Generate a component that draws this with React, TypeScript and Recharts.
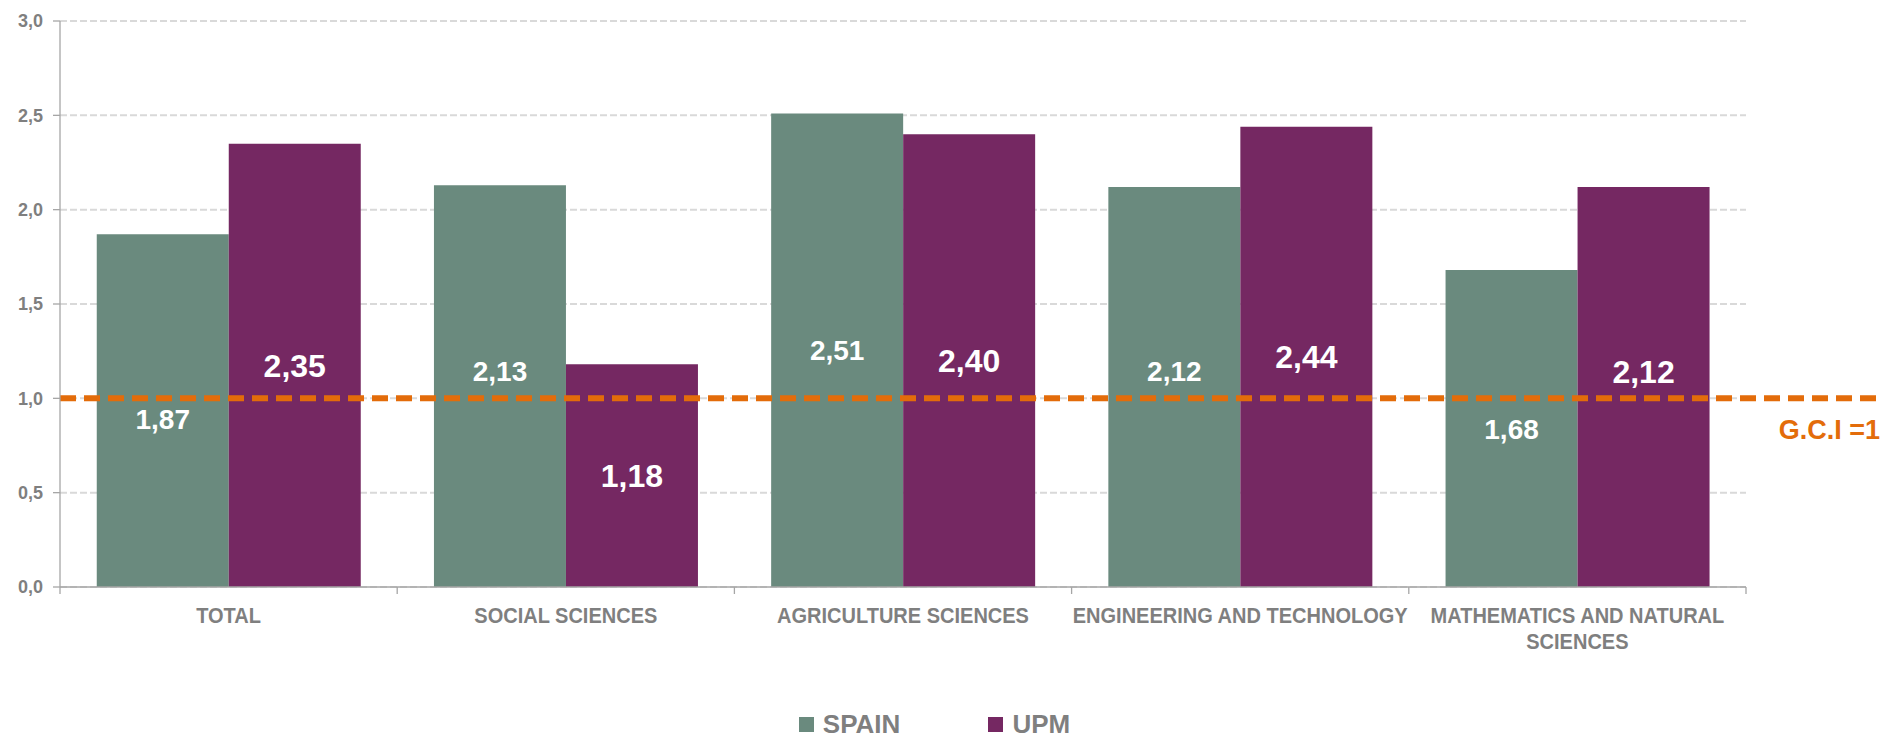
import React from "react";
import {
  BarChart,
  Bar,
  XAxis,
  YAxis,
  CartesianGrid,
  ReferenceLine,
  Legend,
  LabelList,
} from "recharts";

// values
const categories = [
  "TOTAL",
  "SOCIAL SCIENCES",
  "AGRICULTURE SCIENCES",
  "ENGINEERING AND TECHNOLOGY",
  "MATHEMATICS AND NATURAL SCIENCES",
];
const spainValues = [1.87, 2.13, 2.51, 2.12, 1.68];
const upmValues = [2.35, 1.18, 2.4, 2.44, 2.12];
const yTicks = [0, 0.5, 1, 1.5, 2, 2.5, 3];
const gciValue = 1;

const data = categories.map((name, i) => ({
  name,
  spain: spainValues[i],
  upm: upmValues[i],
}));

const W = 1883;
const H = 736;
const MARGIN = { top: 21, right: 137, bottom: 0, left: 0 };
const Y_AXIS_W = 60;
const BAND = (W - MARGIN.left - MARGIN.right - Y_AXIS_W) / categories.length;

const GREEN = "#6a8a7e";
const PURPLE = "#752862";
const ORANGE = "#e36c0a";
const GREY = "#7f7f7f";
const AXIS = "#a6a6a6";
const SANS = "'Liberation Sans', Arial, sans-serif";

const comma = (v: number, d: number) => v.toFixed(d).replace(".", ",");

function wrapLabel(s: string, max = 26): string[] {
  const lines: string[] = [];
  let cur = "";
  for (const w of s.split(" ")) {
    const next = cur ? cur + " " + w : w;
    if (next.length > max && cur) {
      lines.push(cur);
      cur = w;
    } else cur = next;
  }
  if (cur) lines.push(cur);
  return lines;
}

function CategoryTick({ x, y, payload, index }: any) {
  const lines = wrapLabel(String(payload.value));
  const left = x - BAND / 2;
  const right = x + BAND / 2;
  return (
    <g>
      <line x1={left} y1={y} x2={left} y2={y + 7} stroke={AXIS} strokeWidth={1.3} />
      {index === categories.length - 1 && (
        <line x1={right} y1={y} x2={right} y2={y + 7} stroke={AXIS} strokeWidth={1.3} />
      )}
      {/* squeezed sideways, the labels are set in a narrow face */}
      <g transform={`translate(${x},${y + 36}) scale(0.91,1)`}>
        <text
          x={0}
          y={0}
          textAnchor="middle"
          fill={GREY}
          fontFamily={SANS}
          fontSize={22}
          fontWeight={700}
        >
          {lines.map((l, i) => (
            <tspan key={i} x={0} dy={i === 0 ? 0 : 26}>
              {l}
            </tspan>
          ))}
        </text>
      </g>
    </g>
  );
}

// label in the middle of the bar, nudged off the G.C.I line when too close
function valueLabel(size: number, weight: number) {
  return (props: any) => {
    const { x, y, width, height, value } = props;
    if (typeof value !== "number" || !height) return null;
    const base = y + height;
    const lineY = base - (height / value) * gciValue;
    let cy = y + height / 2;
    if (Math.abs(cy - lineY) < 28) cy = cy < lineY ? lineY - 27 : lineY + 21;
    return (
      <text
        x={x + width / 2}
        y={cy}
        dy="0.36em"
        textAnchor="middle"
        fill="#ffffff"
        fontFamily={SANS}
        fontSize={size}
        fontWeight={weight}
      >
        {comma(value, 2)}
      </text>
    );
  };
}

function GciLine(p: any) {
  return (
    <g>
      <line
        x1={p.x1}
        y1={p.y1}
        x2={W}
        y2={p.y2}
        stroke={ORANGE}
        strokeWidth={6}
        strokeDasharray="16 8"
      />
      <text
        x={W - 3}
        y={p.y1 + 41}
        textAnchor="end"
        fill={ORANGE}
        fontFamily={SANS}
        fontSize={27}
        fontWeight={700}
      >
        {`G.C.I =${gciValue}`}
      </text>
    </g>
  );
}

function LegendBox() {
  const items = [
    { label: "SPAIN", color: GREEN },
    { label: "UPM", color: PURPLE },
  ];
  return (
    <div
      style={{
        height: 30,
        display: "flex",
        justifyContent: "center",
        alignItems: "flex-start",
        paddingTop: 5,
        paddingRight: 14,
        boxSizing: "border-box",
        gap: 88,
      }}
    >
      {items.map((it) => (
        <div key={it.label} style={{ display: "flex", alignItems: "center", gap: 9 }}>
          <span style={{ width: 15, height: 15, background: it.color, display: "inline-block" }} />
          <span
            style={{
              color: GREY,
              fontFamily: SANS,
              fontWeight: 700,
              fontSize: 26,
              lineHeight: "26px",
            }}
          >
            {it.label}
          </span>
        </div>
      ))}
    </div>
  );
}

export default function App() {
  return (
    <div style={{ width: W, height: H, background: "#ffffff" }}>
      <style>{"body{margin:0}"}</style>
      <BarChart
        width={W}
        height={H}
        data={data}
        margin={MARGIN}
        barGap={0}
        barCategoryGap="10.9%"
      >
        <CartesianGrid vertical={false} stroke="#d9d9d9" strokeDasharray="7 3" strokeWidth={2} />
        <XAxis
          dataKey="name"
          height={119}
          interval={0}
          tickLine={false}
          tickSize={0}
          tickMargin={0}
          axisLine={{ stroke: AXIS, strokeWidth: 1.3 }}
          tick={(p: any) => <CategoryTick {...p} />}
        />
        <YAxis
          domain={[0, 3]}
          ticks={yTicks}
          interval={0}
          width={Y_AXIS_W}
          tickFormatter={(v: number) => comma(v, 1)}
          axisLine={{ stroke: AXIS, strokeWidth: 1.3 }}
          tickLine={{ stroke: AXIS, strokeWidth: 1.3 }}
          tickSize={7}
          tickMargin={10}
          tick={{ fill: GREY, fontSize: 18, fontWeight: 700, fontFamily: SANS }}
        />
        <Legend
          verticalAlign="bottom"
          wrapperStyle={{ left: 0, width: W }}
          content={() => <LegendBox />}
        />
        <Bar dataKey="spain" name="SPAIN" fill={GREEN} isAnimationActive={false}>
          <LabelList dataKey="spain" content={valueLabel(28, 600)} />
        </Bar>
        <Bar dataKey="upm" name="UPM" fill={PURPLE} isAnimationActive={false}>
          <LabelList dataKey="upm" content={valueLabel(32, 700)} />
        </Bar>
        <ReferenceLine y={gciValue} ifOverflow="visible" shape={(p: any) => <GciLine {...p} />} />
      </BarChart>
    </div>
  );
}
